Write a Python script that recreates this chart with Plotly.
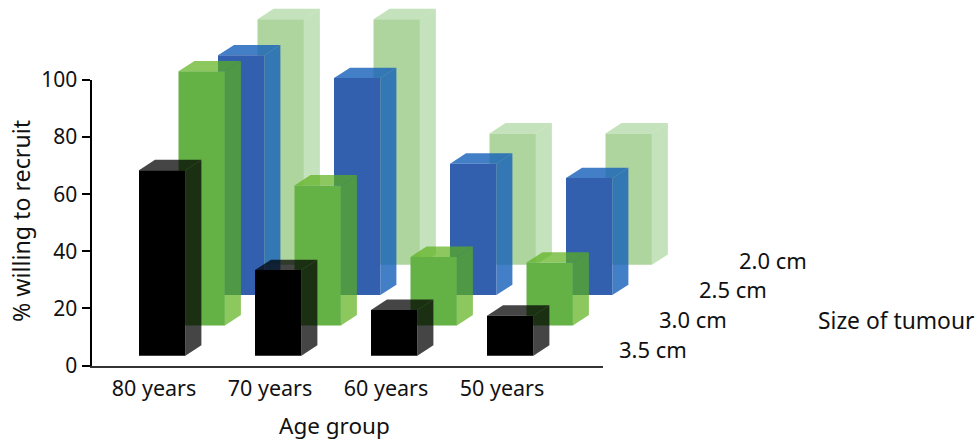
import plotly.graph_objects as go

# Recruitment willingness by age group and tumour size
age_groups = ["80 years", "70 years", "60 years", "50 years"]
tumour_sizes = ["3.5 cm", "3.0 cm", "2.5 cm", "2.0 cm"]
pct_35 = [65, 30, 16, 14]
pct_30 = [89, 49, 24, 22]
pct_25 = [84, 76, 46, 41]
pct_20 = [86, 86, 46, 46]
y_ticks = [0, 20, 40, 60, 80, 100]

series_values = [pct_35, pct_30, pct_25, pct_20]
# (front colour, translucent side/top colour) per tumour size
palette = [
    ("#000000", "rgba(0,0,0,0.73)"),
    ("#64B246", "rgba(91,177,25,0.70)"),
    ("#3360AE", "rgba(20,95,185,0.80)"),
    ("#AFD59F", "rgba(165,210,150,0.65)"),
]

W, H = 977, 441
PX_ZERO, PX_HUNDRED = 365.5, 80.0
PX_PER_PCT = (PX_ZERO - PX_HUNDRED) / 100
PX_PER_CAT = 116.0
AXIS_LEFT, AXIS_RIGHT = 91.5, 603.0
LABEL_ORIGIN = 154.0       # pixel x of the first age label

# Oblique projection, in category units along x and percent units along y
BAR_LEFT = (139.0 - LABEL_ORIGIN) / PX_PER_CAT
BAR_WIDTH = 46.4 / PX_PER_CAT
ROW_DX = 39.5 / PX_PER_CAT
ROW_DY = 30.3 / PX_PER_PCT
FLOOR = 9.8 / PX_PER_PCT
DEPTH_DX = 16.0 / PX_PER_CAT
DEPTH_DY = 10.4 / PX_PER_PCT


def faces(cat, row, value):
    x0 = cat + BAR_LEFT + row * ROW_DX
    x1 = x0 + BAR_WIDTH
    base = FLOOR + row * ROW_DY
    top = base + value
    front = ([x0, x1, x1, x0, x0], [base, base, top, top, base])
    side = ([x1, x1 + DEPTH_DX, x1 + DEPTH_DX, x1, x1],
            [base, base + DEPTH_DY, top + DEPTH_DY, top, base])
    lid = ([x0, x0 + DEPTH_DX, x1 + DEPTH_DX, x1, x0],
           [top, top + DEPTH_DY, top + DEPTH_DY, top, top])
    return front, side, lid


def polygon(xs, ys, colour):
    return go.Scatter(x=xs, y=ys, xaxis="x2", yaxis="y2", mode="lines",
                      line=dict(width=0), fill="toself", fillcolor=colour,
                      hoverinfo="skip", showlegend=False)


fig = go.Figure()

# Invisible trace that keeps the visible axes active
fig.add_trace(go.Scatter(x=[0, 3], y=[0, 100], mode="markers",
                         marker=dict(opacity=0), hoverinfo="skip", showlegend=False))

# Back row first so that nearer bars sit on top
for row in range(len(series_values) - 1, -1, -1):
    front_col, shade_col = palette[row]
    for cat, value in enumerate(series_values[row]):
        front, side, lid = faces(cat, row, value)
        fig.add_trace(polygon(*side, shade_col))
        fig.add_trace(polygon(*lid, shade_col))
        fig.add_trace(polygon(*front, front_col))

FONT = "Noto Sans"
TEXT = "#111111"


def note(text, px_x, px_y, size, xanchor="left", angle=0):
    fig.add_annotation(text=text, xref="paper", yref="paper", xanchor=xanchor, yanchor="middle",
                       x=px_x / W, y=1 - px_y / H, showarrow=False, textangle=angle,
                       font=dict(family=FONT, size=size, color=TEXT))


# Tumour size labels step back with their rows
for row, label in enumerate(tumour_sizes):
    note(label, 617 + row * 40, 349 - row * 29.8, 22)
note("Size of tumour", 816, 320, 22.8)
note("Age group", 334, 425, 22.5, xanchor="center")
note("% willing to recruit", 21, 221, 23.2, xanchor="center", angle=-90)

fig.update_layout(
    width=W, height=H, margin=dict(l=0, r=0, t=0, b=0),
    paper_bgcolor="white", plot_bgcolor="rgba(0,0,0,0)",
    font=dict(family=FONT, size=20, color=TEXT),
    xaxis=dict(domain=[AXIS_LEFT / W, AXIS_RIGHT / W], automargin=False,
               range=[(AXIS_LEFT - LABEL_ORIGIN) / PX_PER_CAT, (AXIS_RIGHT - LABEL_ORIGIN) / PX_PER_CAT],
               tickmode="array", tickvals=list(range(len(age_groups))), ticktext=age_groups,
               ticks="outside", ticklen=3, tickcolor="rgba(0,0,0,0)",
               showgrid=False, zeroline=False, showline=True,
               linecolor="#333333", linewidth=1.5, tickfont=dict(size=21.5)),
    yaxis=dict(domain=[1 - PX_ZERO / H, 1 - PX_HUNDRED / H], range=[0, 100], automargin=False,
               tickmode="array", tickvals=y_ticks, ticks="outside", ticklen=8, tickwidth=2,
               tickcolor="black", showgrid=False, zeroline=False, showline=True,
               linecolor="black", linewidth=2, tickfont=dict(size=21)),
    xaxis2=dict(domain=[0, 1], anchor="y2", visible=False, automargin=False,
                range=[-LABEL_ORIGIN / PX_PER_CAT, (W - LABEL_ORIGIN) / PX_PER_CAT]),
    yaxis2=dict(domain=[0, 1], anchor="x2", visible=False, automargin=False,
                range=[(PX_ZERO - H) / PX_PER_PCT, PX_ZERO / PX_PER_PCT]),
)

fig.write_html("out.html", config=dict(displayModeBar=False))
